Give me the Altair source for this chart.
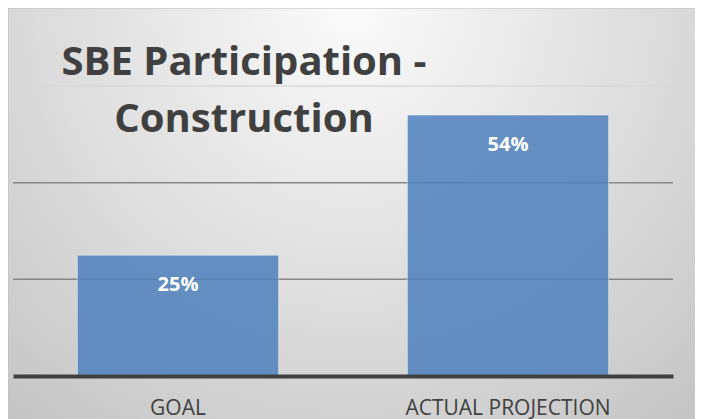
import altair as alt
import pandas as pd

categories = ["GOAL", "ACTUAL PROJECTION"]
values = [0.25, 0.54]
labels = ["25%", "54%"]
grid_values = [0.2, 0.4, 0.6]
title_lines = ["SBE Participation -", "Construction"]

df = pd.DataFrame({"cat": categories, "val": values, "label": labels})
grid_df = pd.DataFrame({"g": grid_values})

W, H = 660, 290
PAD = {"left": 5, "top": 78, "right": 22, "bottom": 43}

yscale = alt.Scale(domain=[0, 0.6], nice=False, zero=True)
xscale = alt.Scale(paddingInner=0.39, paddingOuter=0.195)

bg = alt.Chart(pd.DataFrame({"a": [0]})).mark_rect(
    fill={
        "gradient": "radial",
        "x1": 0.5, "y1": 0.2, "r1": 0,
        "x2": 0.5, "y2": 0.2, "r2": 0.8,
        "stops": [
            {"offset": 0, "color": "#fbfbfb"},
            {"offset": 1, "color": "#c3c3c3"},
        ],
    },
    stroke="#bdbdbd",
    strokeWidth=1,
).encode(
    x=alt.value(-5), x2=alt.value(W + PAD["right"] + 2),
    y=alt.value(-PAD["top"]), y2=alt.value(H + PAD["bottom"] + 2),
)

grid = alt.Chart(grid_df).mark_rule(strokeWidth=1.5).encode(
    y=alt.Y("g:Q", scale=yscale, axis=None),
    color=alt.condition("datum.g >= 0.6", alt.value("#d9d9d9"), alt.value("#868686")),
)

bars = alt.Chart(df).mark_bar(
    color="#4f81bd", opacity=0.85, stroke="#ffffff", strokeOpacity=0.5, strokeWidth=1
).encode(
    x=alt.X("cat:N", sort=categories, scale=xscale, title=None,
            axis=alt.Axis(labelAngle=0, ticks=False, grid=False, labelLimit=0,
                          labelFont="Open Sans", labelFontSize=21,
                          labelColor="#404040", labelPadding=21,
                          domainColor="#404040", domainWidth=4, zindex=1)),
    y=alt.Y("val:Q", scale=yscale, axis=None),
)

text = alt.Chart(df).mark_text(
    font="Open Sans", fontSize=20, fontWeight="bold", color="#ffffff",
    baseline="middle", dy=30,
).encode(
    x=alt.X("cat:N", sort=categories, scale=xscale),
    y=alt.Y("val:Q", scale=yscale),
    text="label:N",
)

chart = alt.layer(bg, grid, bars, text).properties(
    width=W, height=H,
    padding=PAD,
    autosize=alt.AutoSizeParams(type="none"),
    title=alt.TitleParams(
        text=title_lines, font="Open Sans", fontSize=40, fontWeight="bold",
        color="#404040", anchor="start", align="center", dx=231,
        baseline="alphabetic", lineHeight=57, offset=0, dy=164, frame="group",
    ),
).configure_view(stroke=None).configure(background="#ffffff")

chart.save("out.html", embed_options={"renderer": "svg", "actions": False})
